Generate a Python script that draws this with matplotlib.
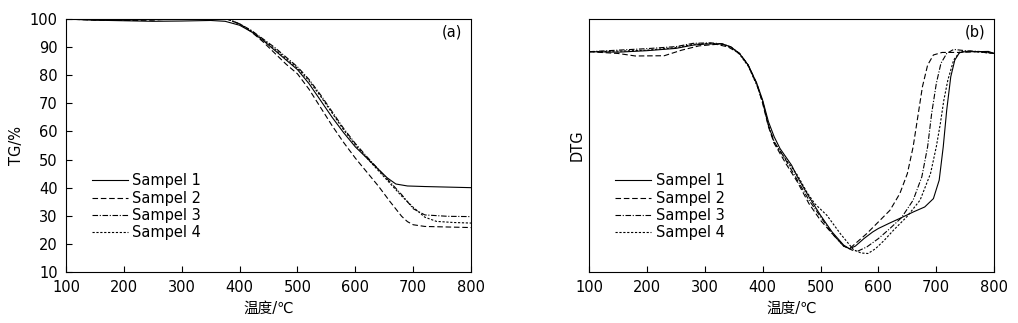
import numpy as np
import matplotlib
matplotlib.use('Agg')
import matplotlib.pyplot as plt

plt.rcParams['font.family'] = ['DejaVu Sans', 'Noto Sans CJK SC']
plt.rcParams['axes.unicode_minus'] = False

labels = ['Sampel 1', 'Sampel 2', 'Sampel 3', 'Sampel 4']

# TG 数据 (温度, 质量%)
tg_x1 = [100, 150, 200, 250, 300, 350, 375, 400, 420, 440, 460, 480, 500, 520, 540, 560,
         580, 600, 620, 640, 655, 670, 690, 720, 760, 800]
tg_y1 = [100, 99.6, 99.4, 99.2, 99.3, 99.5, 99.2, 97.8, 95.5, 92.5, 89.0, 85.5, 82.0, 77.0,
         71.0, 65.0, 59.5, 54.5, 50.5, 46.5, 43.5, 41.3, 40.6, 40.4, 40.2, 40.0]
tg_x2 = [100, 150, 200, 250, 300, 350, 375, 400, 420, 440, 460, 480, 500, 520, 540, 560,
         580, 600, 620, 640, 660, 680, 690, 700, 720, 760, 800]
tg_y2 = [100, 99.6, 99.5, 99.6, 100.3, 100.6, 100.2, 98.3, 95.5, 92.0, 88.0, 84.0, 80.5, 75.0,
         68.5, 62.0, 56.0, 50.5, 45.5, 40.5, 35.0, 29.8, 27.9, 26.8, 26.2, 26.0, 25.8]
tg_x3 = [100, 200, 300, 350, 375, 400, 420, 440, 460, 480, 500, 520, 540, 560, 580, 600,
         620, 640, 660, 680, 700, 720, 760, 800]
tg_y3 = [100, 99.6, 100.4, 100.8, 100.4, 98.3, 96.0, 93.0, 90.0, 86.5, 83.0, 78.5, 73.0, 67.0,
         61.0, 55.7, 51.0, 46.5, 42.0, 37.5, 32.5, 30.3, 29.8, 29.7]
tg_x4 = [100, 200, 300, 350, 375, 400, 420, 440, 460, 480, 500, 520, 540, 560, 580, 600,
         620, 640, 660, 680, 700, 720, 740, 770, 800]
tg_y4 = [100, 99.6, 100.2, 100.7, 100.3, 98.2, 95.8, 92.8, 89.5, 86.0, 82.5, 78.0, 72.5, 66.5,
         60.5, 55.2, 50.5, 46.0, 41.5, 37.0, 33.0, 29.5, 28.0, 27.6, 27.4]

# DTG 数据 (任意单位)
dtg_x1 = [100, 150, 200, 250, 280, 300, 330, 345, 360, 375, 390, 400, 410, 420, 430, 440,
          450, 460, 480, 500, 520, 540, 550, 560, 575, 590, 600, 620, 640, 660, 680, 695,
          705, 712, 718, 725, 732, 740, 750, 770, 790, 800]
dtg_y1 = [87.1, 86.9, 87.5, 88.4, 89.7, 90.1, 90.2, 89.0, 86.4, 81.8, 74.5, 67.9, 59.4, 53.4,
          48.8, 45.5, 42.2, 37.6, 29.7, 22.4, 15.8, 10.6, 9.2, 10.2, 13.2, 15.8, 17.2, 19.4,
          21.5, 23.7, 25.7, 29.0, 36.3, 49.5, 64.0, 77.2, 83.8, 86.7, 87.1, 87.1, 87.2, 86.4]
dtg_x2 = [100, 150, 180, 230, 260, 290, 320, 340, 360, 375, 390, 400, 410, 420, 440, 460,
          480, 500, 520, 540, 550, 560, 580, 600, 620, 637, 650, 660, 668, 676, 685, 695,
          710, 740, 770, 800]
dtg_y2 = [87.1, 86.4, 85.4, 85.5, 87.7, 89.4, 90.0, 89.0, 86.4, 81.8, 74.5, 66.6, 57.4, 50.8,
          42.9, 35.6, 27.0, 20.4, 15.2, 10.2, 9.2, 11.2, 15.2, 19.8, 24.4, 31.0, 38.9, 49.5,
          61.3, 73.2, 81.8, 85.8, 86.8, 86.8, 87.1, 86.4]
dtg_x3 = [100, 150, 200, 250, 280, 310, 330, 345, 360, 375, 390, 400, 410, 420, 440, 460,
          480, 500, 520, 540, 555, 565, 580, 600, 620, 640, 660, 675, 685, 692, 700, 708,
          718, 730, 750, 780, 800]
dtg_y3 = [87.1, 87.7, 88.3, 89.1, 90.4, 90.6, 90.2, 89.0, 86.4, 81.8, 73.9, 67.3, 58.0, 51.5,
          44.2, 36.3, 28.4, 21.8, 15.2, 10.2, 8.6, 8.3, 9.9, 13.2, 17.2, 21.5, 28.4, 37.6,
          49.5, 62.7, 74.5, 82.5, 86.4, 88.0, 87.5, 87.1, 86.4]
dtg_x4 = [100, 150, 200, 250, 280, 310, 330, 345, 360, 375, 390, 400, 410, 420, 440, 460,
          476, 490, 511, 534, 557, 570, 582, 595, 610, 626, 649, 672, 690, 700, 707, 713,
          720, 730, 741, 760, 800]
dtg_y4 = [87.1, 87.3, 87.7, 88.7, 90.0, 90.4, 90.0, 88.8, 86.1, 81.4, 73.9, 67.3, 58.0, 51.1,
          44.5, 38.3, 31.7, 27.0, 22.4, 15.2, 8.8, 7.5, 7.3, 9.2, 12.5, 16.5, 21.8, 28.4,
          38.9, 49.5, 58.7, 67.9, 75.9, 83.8, 87.1, 87.3, 86.4]

styles = ['-', (0, (5, 2.5)), (0, (5, 1.5, 1, 1.5)), (0, (2, 1.5))]
lw = 0.8

fig = plt.figure(figsize=(10.18, 3.23), dpi=100)
ax1 = fig.add_axes([0.0648, 0.158, 0.398, 0.783])
ax2 = fig.add_axes([0.5786, 0.158, 0.398, 0.783])

tg = [(tg_x1, tg_y1), (tg_x2, tg_y2), (tg_x3, tg_y3), (tg_x4, tg_y4)]
dtg = [(dtg_x1, dtg_y1), (dtg_x2, dtg_y2), (dtg_x3, dtg_y3), (dtg_x4, dtg_y4)]

for (x, y), ls, lab in zip(tg, styles, labels):
    ax1.plot(x, y, color='black', linestyle=ls, linewidth=lw, label=lab)
for (x, y), ls, lab in zip(dtg, styles, labels):
    ax2.plot(x, y, color='black', linestyle=ls, linewidth=lw, label=lab)

ax1.set_xlim(100, 800)
ax1.set_ylim(10, 100)
ax1.set_yticks(np.arange(10, 101, 10))
ax1.set_ylabel('TG/%', fontsize=10.5, labelpad=4)
ax2.set_xlim(100, 800)
ax2.set_ylim(0, 100)
ax2.set_yticks([])
ax2.set_ylabel('DTG', fontsize=10.5, labelpad=3)

for ax, tag in [(ax1, '(a)'), (ax2, '(b)')]:
    ax.set_xticks(np.arange(100, 801, 100))
    ax.set_xlabel('温度/℃', fontsize=10.5, labelpad=4)
    ax.tick_params(direction='in', length=4, width=0.8, labelsize=10.5, pad=6)
    for s in ax.spines.values():
        s.set_linewidth(0.8)
    ax.text(0.978, 0.95, tag, transform=ax.transAxes, ha='right', va='center', fontsize=10.5)
    ax.legend(loc='upper left', bbox_to_anchor=(0.04, 0.43), frameon=False, fontsize=10.5,
              handlelength=2.45, handletextpad=0.3, labelspacing=0.16, borderpad=0.2)

fig.savefig('out.png', dpi=100)
